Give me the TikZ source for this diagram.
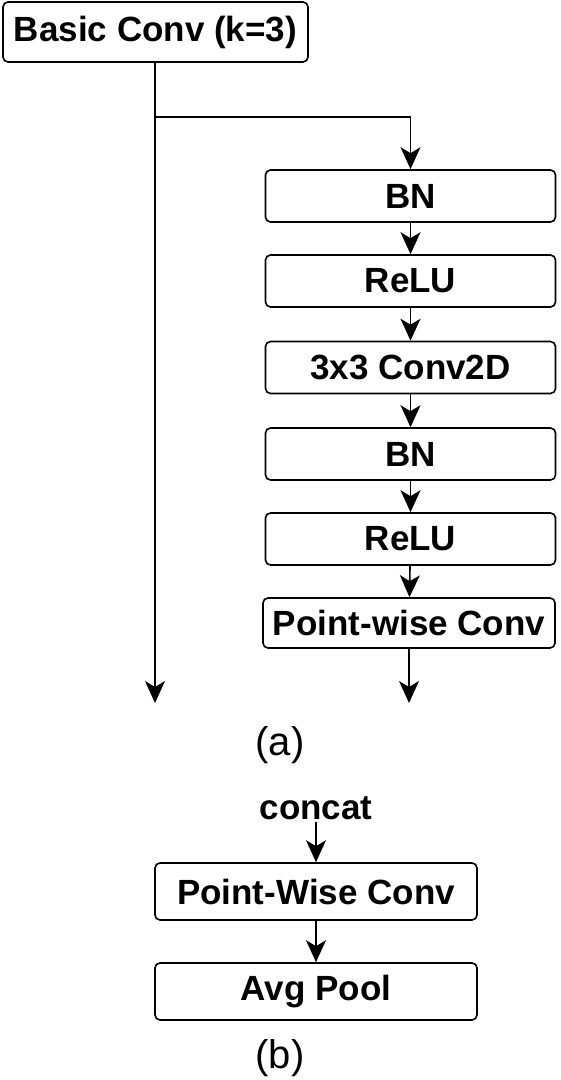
\documentclass[tikz,border=0pt]{standalone}
\usepackage{fontspec}
\setmainfont{Liberation Sans}
\usetikzlibrary{arrows.meta}

\begin{document}
\begin{tikzpicture}[x=0.5pt, y=-0.5pt, line width=0.8pt,
  arr/.style={-{Stealth[length=11pt, width=10pt, inset=3pt]}},
  block/.style={draw, rounded corners=2.5pt, minimum width=145pt, minimum height=26pt,
                inner sep=0pt, font=\fontsize{17.5}{20}\selectfont\bfseries},
  caption/.style={font=\fontsize{20}{24}\selectfont}]
  \useasboundingbox (0,0) rectangle (561,1080);
  % part (a)
  \node (basic) [block, minimum width=152.5pt, minimum height=30pt] at (155.5,32)  {Basic Conv (k=3)};
  \node (bn1)   [block] at (410.5,196)   {BN};
  \node (relu1) [block] at (410.5,281)   {ReLU};
  \node (conv)  [block] at (410.5,367.5) {3x3 Conv2D};
  \node (bn2)   [block] at (410.5,454)   {BN};
  \node (relu2) [block] at (410.5,539)   {ReLU};
  \node (pw)    [block, minimum width=146pt, minimum height=25pt] at (409,623) {Point-wise Conv};
  \coordinate (split) at (155,117);
  \coordinate (outL)  at (155,703);
  \coordinate (outR)  at (410,703);
  \draw (basic.south -| split) -- (split);
  \draw [arr] (split) -- (split -| bn1.north) -- (bn1.north);
  \draw [arr] (split) -- (outL);
  \path [arr] (bn1)   edge (relu1)
              (relu1) edge (conv)
              (conv)  edge (bn2)
              (bn2)   edge (relu2)
              (relu2) edge (pw)
              (pw)    edge (pw.south |- outR);
  \node (capa) [caption] at (280,745) {(a)};
  % part (b)
  \node (concat) [font=\fontsize{17.5}{20}\selectfont\bfseries, inner sep=1pt] at (316,808) {concat};
  \node (pwb) [block, minimum width=161pt, minimum height=28.5pt] at (316,891.5) {Point-Wise Conv};
  \node (avg) [block, minimum width=161pt, minimum height=28.5pt] at (316,991.5) {Avg Pool};
  \path [arr] (concat) edge (pwb)
              (pwb)    edge (avg);
  \node (capb) [caption] at (280,1058) {(b)};
\end{tikzpicture}
\end{document}
